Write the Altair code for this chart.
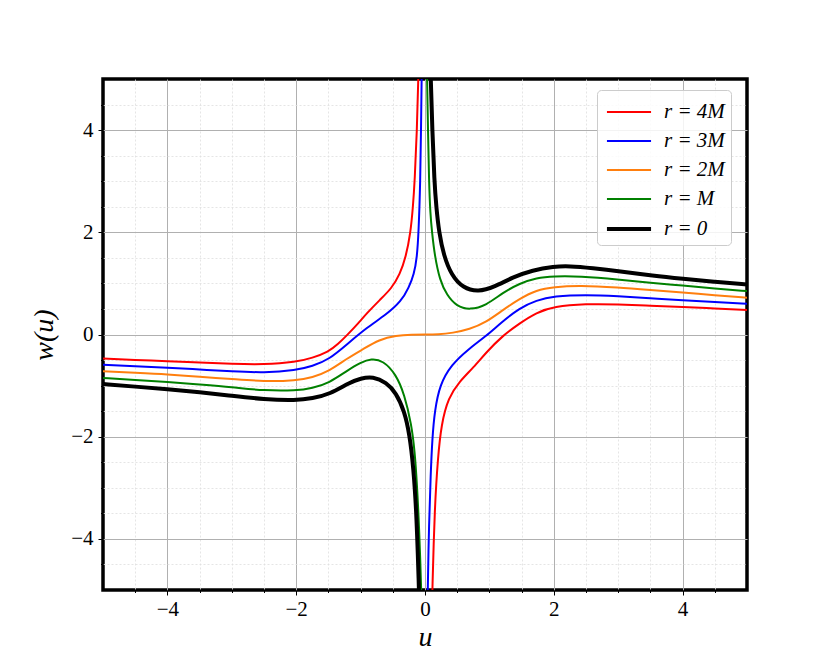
import altair as alt
import pandas as pd

SERIES = ["r = 4M", "r = 3M", "r = 2M", "r = M", "r = 0"]
COLORS = ["#ff0000", "#0000ff", "#ff7f0e", "#008000", "#000000"]
WIDTHS = [2, 2, 2, 2, 4]

X_MAJOR = [-4, -2, 0, 2, 4]
Y_MAJOR = [-4, -2, 0, 2, 4]
X_MINOR = [-4.5, -3.5, -3, -2.5, -1.5, -1, -0.5, 0.5, 1, 1.5, 2.5, 3, 3.5, 4.5]
Y_MINOR = [-4.5, -3.5, -3, -2.5, -1.5, -1, -0.5, 0.5, 1, 1.5, 2.5, 3, 3.5, 4.5]

# r = 4M
RED_L_U = [-5.0, -4.5, -4.0, -3.5, -3.0, -2.5, -2.0, -1.75, -1.5, -1.35, -1.2, -1.05, -0.9, -0.7, -0.52, -0.39, -0.3, -0.223, -0.187, -0.16, -0.125, -0.104, -0.09]
RED_L_W = [-0.47, -0.50, -0.52, -0.55, -0.575, -0.59, -0.54, -0.46, -0.34, -0.19, 0.0, 0.2, 0.42, 0.68, 0.90, 1.18, 1.5, 2.0, 2.5, 3.0, 4.0, 5.0, 5.8]
RED_R_U = [0.1, 0.114, 0.15, 0.2, 0.254, 0.36, 0.54, 0.75, 0.95, 1.2, 1.47, 1.73, 2.0, 2.5, 3.0, 3.5, 4.0, 4.5, 5.0]
RED_R_W = [-5.8, -5.0, -3.39, -2.41, -1.76, -1.24, -0.91, -0.65, -0.35, -0.03, 0.22, 0.43, 0.55, 0.60, 0.59, 0.565, 0.54, 0.51, 0.48]

# r = 3M
BLUE_L_U = [-5.0, -4.5, -4.0, -3.5, -3.0, -2.5, -2.0, -1.75, -1.49, -1.2, -0.91, -0.6, -0.37, -0.25, -0.171, -0.125, -0.099, -0.073, -0.062, -0.052, -0.045]
BLUE_L_W = [-0.59, -0.62, -0.65, -0.685, -0.72, -0.75, -0.70, -0.62, -0.49, -0.18, 0.13, 0.39, 0.65, 0.92, 1.18, 1.5, 2.0, 3.0, 4.0, 5.0, 5.8]
BLUE_R_U = [0.036, 0.042, 0.062, 0.088, 0.114, 0.15, 0.23, 0.41, 0.67, 0.95, 1.18, 1.47, 1.73, 2.0, 2.5, 3.0, 3.5, 4.0, 4.5, 5.0]
BLUE_R_W = [-5.8, -5.0, -3.71, -2.74, -2.02, -1.5, -0.98, -0.59, -0.29, -0.03, 0.23, 0.52, 0.67, 0.75, 0.78, 0.75, 0.71, 0.67, 0.635, 0.60]

# r = 2M
ORANGE_U = [-5.0, -4.5, -4.0, -3.5, -3.0, -2.5, -2.0, -1.75, -1.49, -1.2, -0.965, -0.71, -0.45, -0.2, 0.0, 0.2, 0.43, 0.69, 0.95, 1.21, 1.47, 1.73, 2.0, 2.4, 3.0, 3.5, 4.0, 4.5, 5.0]
ORANGE_W = [-0.72, -0.75, -0.78, -0.83, -0.87, -0.92, -0.90, -0.84, -0.72, -0.46, -0.29, -0.10, -0.02, 0.0, 0.0, 0.0, 0.03, 0.10, 0.24, 0.48, 0.70, 0.87, 0.93, 0.96, 0.92, 0.87, 0.82, 0.77, 0.72]

# r = M
GREEN_L_U = [-5.0, -4.5, -4.0, -3.5, -3.0, -2.5, -2.0, -1.75, -1.49, -1.2, -1.0, -0.835, -0.65, -0.45, -0.32, -0.21, -0.16, -0.125, -0.093, -0.057, -0.048]
GREEN_L_W = [-0.85, -0.89, -0.93, -0.98, -1.03, -1.10, -1.10, -1.05, -0.95, -0.70, -0.55, -0.47, -0.51, -0.78, -1.17, -1.76, -2.28, -2.93, -3.71, -5.0, -5.8]
GREEN_R_U = [0.027, 0.031, 0.047, 0.062, 0.083, 0.109, 0.15, 0.23, 0.34, 0.49, 0.70, 0.95, 1.21, 1.47, 1.73, 2.0, 2.4, 3.0, 3.5, 4.0, 4.5, 5.0]
GREEN_R_W = [5.8, 5.0, 4.0, 3.0, 2.35, 2.0, 1.55, 1.06, 0.77, 0.55, 0.48, 0.57, 0.82, 1.0, 1.11, 1.14, 1.14, 1.08, 1.01, 0.96, 0.90, 0.85]

# r = 0
BLACK_L_U = [-5.0, -4.5, -4.0, -3.5, -3.0, -2.5, -2.0, -1.75, -1.48, -1.17, -1.0, -0.81, -0.6, -0.45, -0.32, -0.24, -0.18, -0.135, -0.11, -0.093, -0.08]
BLACK_L_W = [-0.97, -1.02, -1.07, -1.13, -1.2, -1.27, -1.29, -1.25, -1.17, -0.94, -0.86, -0.82, -0.94, -1.14, -1.5, -1.95, -2.6, -3.45, -4.36, -5.0, -5.8]
BLACK_R_U = [0.078, 0.088, 0.114, 0.145, 0.176, 0.218, 0.29, 0.41, 0.59, 0.825, 1.08, 1.36, 1.67, 2.0, 2.24, 2.6, 3.02, 3.54, 4.0, 4.5, 5.0]
BLACK_R_W = [5.8, 5.0, 4.0, 3.0, 2.48, 2.0, 1.55, 1.16, 0.91, 0.83, 0.93, 1.12, 1.26, 1.33, 1.34, 1.30, 1.24, 1.15, 1.09, 1.03, 0.98]

branches = [
    ("r = 4M", "4M-L", RED_L_U, RED_L_W),
    ("r = 4M", "4M-R", RED_R_U, RED_R_W),
    ("r = 3M", "3M-L", BLUE_L_U, BLUE_L_W),
    ("r = 3M", "3M-R", BLUE_R_U, BLUE_R_W),
    ("r = 2M", "2M", ORANGE_U, ORANGE_W),
    ("r = M", "M-L", GREEN_L_U, GREEN_L_W),
    ("r = M", "M-R", GREEN_R_U, GREEN_R_W),
    ("r = 0", "0-L", BLACK_L_U, BLACK_L_W),
    ("r = 0", "0-R", BLACK_R_U, BLACK_R_W),
]
rows = []
for series, seg, us, ws in branches:
    for u, w in zip(us, ws):
        rows.append({"u": u, "w": w, "series": series, "seg": seg})
df = pd.DataFrame(rows)

FONT = "Liberation Serif"
xs = alt.Scale(domain=[-5, 5], nice=False, zero=False)
ys = alt.Scale(domain=[-5, 5], nice=False, zero=False)

legend = alt.Legend(
    title=None, orient="none", legendX=494, legendY=11,
    symbolType="M-0.87,0H2.07", symbolSize=900,
    labelFont=FONT, labelFontSize=21, labelFontStyle="italic", labelColor="black",
    labelOffset=27, rowPadding=3, padding=6,
    fillColor="rgba(255,255,255,0.85)", strokeColor="#cccccc", cornerRadius=4)

minor = alt.Chart(df).mark_point(opacity=0, size=1).encode(
    x=alt.X("u:Q", scale=xs, axis=alt.Axis(
        values=X_MINOR, orient="bottom", grid=True, gridDash=[2, 2], gridColor="#dedede",
        gridWidth=0.8, labels=False, ticks=True, tickSize=2.5, tickColor="black",
        domain=False, title=None)),
    y=alt.Y("w:Q", scale=ys, axis=alt.Axis(
        values=Y_MINOR, orient="left", grid=True, gridDash=[2, 2], gridColor="#dedede",
        gridWidth=0.8, labels=False, ticks=True, tickSize=2.5, tickColor="black",
        domain=False, title=None)),
)

lines = alt.Chart(df).mark_line(clip=True, interpolate="basis").encode(
    x=alt.X("u:Q", scale=xs, axis=alt.Axis(
        values=X_MAJOR, orient="bottom", grid=True, gridColor="#b0b0b0", gridWidth=1,
        ticks=True, tickSize=5, tickColor="black", domain=False,
        labelFont=FONT, labelFontSize=21, labelColor="black", labelPadding=3,
        title="u", titleFont=FONT, titleFontSize=28, titleFontStyle="italic",
        titleFontWeight="normal", titleColor="black", titlePadding=4)),
    y=alt.Y("w:Q", scale=ys, axis=alt.Axis(
        values=Y_MAJOR, orient="left", grid=True, gridColor="#b0b0b0", gridWidth=1,
        ticks=True, tickSize=5, tickColor="black", domain=False,
        labelFont=FONT, labelFontSize=21, labelColor="black", labelPadding=5,
        title="w(u)", titleFont=FONT, titleFontSize=28, titleFontStyle="italic",
        titleFontWeight="normal", titleColor="black", titlePadding=12)),
    color=alt.Color("series:N", scale=alt.Scale(domain=SERIES, range=COLORS), legend=legend),
    strokeWidth=alt.StrokeWidth("series:N",
                                scale=alt.Scale(type="ordinal", domain=SERIES, range=WIDTHS),
                                legend=legend),
    detail="seg:N",
    order="u:Q",
)

chart = alt.layer(minor, lines).resolve_axis(x="independent", y="independent").properties(
    width=644, height=511,
    padding={"left": 95, "top": 71, "right": 70, "bottom": 60},
    autosize=alt.AutoSizeParams(type="none"),
).configure_view(stroke="black", strokeWidth=3.5)

chart.save("out.html", embed_options={"renderer": "svg", "actions": False})
